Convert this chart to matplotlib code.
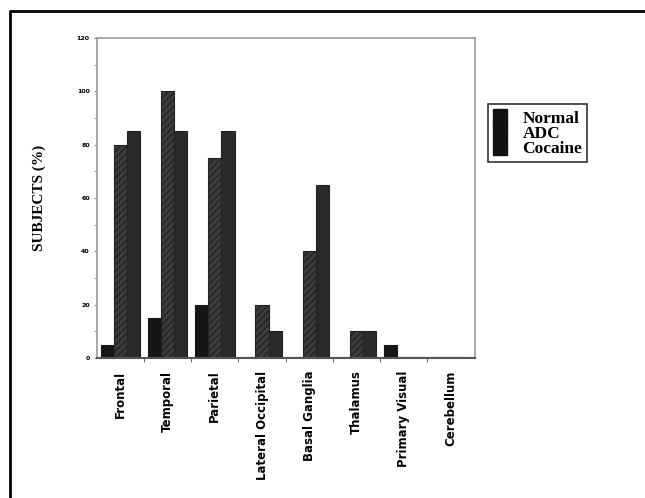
import numpy as np
import matplotlib.pyplot as plt
from matplotlib.patches import Patch
from matplotlib.lines import Line2D

# Data
regions = ["Frontal", "Temporal", "Parietal", "Lateral Occipital",
           "Basal Ganglia", "Thalamus", "Primary Visual", "Cerebellum"]
normal = [5, 15, 20, 0.5, 0.5, 0.5, 5, 0.5]
adc = [80, 100, 75, 20, 40, 10, 0.5, 0.5]
cocaine = [85, 85, 85, 10, 65, 10, 0.5, 0.5]
series_names = ["Normal", "ADC", "Cocaine"]

fig = plt.figure(figsize=(6.45, 4.98), dpi=100, facecolor='white')
ax = fig.add_axes([0.150, 0.281, 0.586, 0.643])

x = np.arange(len(regions))
w = 0.28
ax.bar(x - w, normal, w, color='#161616', edgecolor='#161616', linewidth=0.8)
ax.bar(x, adc, w, color='#3c3c3c', edgecolor='#222222', hatch='/////', linewidth=0.8)
ax.bar(x + w, cocaine, w, color='#2a2a2a', edgecolor='#222222', linewidth=0.8)

ax.set_xlim(-0.5, len(regions) - 0.5)
ax.set_ylim(0, 120)
ax.set_yticks(np.arange(0, 121, 20))
ax.set_yticks(np.arange(0, 121, 10), minor=True)
ax.set_yticklabels([str(v) for v in range(0, 121, 20)], fontsize=4.5, fontweight='bold')

ax.set_xticks(x)
ax.set_xticklabels(regions, rotation=90, fontsize=8.5, fontweight='bold')
ax.tick_params(axis='x', length=0, pad=9)
ax.set_xticks(np.arange(0.5, len(regions) - 0.5), minor=True)
ax.tick_params(axis='x', which='minor', length=3, color='#555555')
ax.tick_params(axis='y', which='both', length=2, color='#888888', pad=3)

for s in ax.spines.values():
    s.set_color('#999999')
    s.set_linewidth(1.2)
ax.spines['bottom'].set_color('#555555')
ax.spines['bottom'].set_linewidth(1.5)

ax.set_ylabel("SUBJECTS (%)", fontsize=11, fontweight='bold',
              family='Liberation Serif', labelpad=22)

handles = [Patch(facecolor='#111111', edgecolor='#111111') for _ in series_names]
leg = fig.legend(handles, series_names, loc='upper left',
                 bbox_to_anchor=(0.756, 0.791), frameon=True, fancybox=False,
                 prop={'family': 'Liberation Serif', 'weight': 'bold', 'size': 12.5},
                 handlelength=0.8, handleheight=1.0, handletextpad=0.9,
                 labelspacing=-0.15, borderpad=0.3, borderaxespad=0)
leg.get_frame().set_edgecolor('black')
leg.get_frame().set_linewidth(1.2)

# scanned page frame (top and left edges)
fig.add_artist(Line2D([0.0155, 0.0155, 1.0], [0.0, 0.978, 0.978],
                      transform=fig.transFigure, color='black', linewidth=2))

fig.savefig('out.png', dpi=100)
